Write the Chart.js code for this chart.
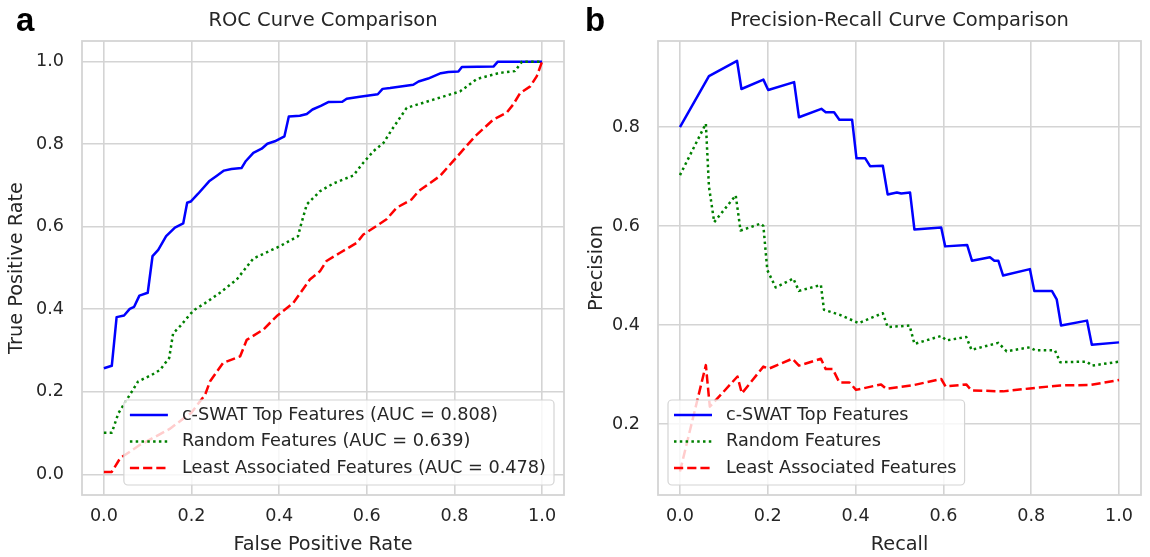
<!DOCTYPE html>
<html>
<head>
<meta charset="utf-8">
<script src="https://cdn.jsdelivr.net/npm/chart.js@4.4.1/dist/chart.umd.min.js"></script>
<style>
  body { margin: 0; background: #fff; width: 1150px; height: 557px; position: relative; overflow: hidden; }
  .pane { position: absolute; top: 0; width: 575px; height: 557px; }
  .tag { position: absolute; top: 1px; font: bold 33px "Liberation Sans", Arial, sans-serif; color: #000; }
</style>
</head>
<body>
<div class="pane" style="left:0"><canvas id="roc" width="575" height="557"></canvas></div>
<div class="pane" style="left:575px"><canvas id="pr" width="575" height="557"></canvas></div>
<div class="tag" style="left:16px">a</div>
<div class="tag" style="left:585px">b</div>
<script>
// ROC — c-SWAT top features
const rocTopFpr = [0, 0.018, 0.029, 0.046, 0.059, 0.069, 0.081, 0.100, 0.111, 0.124, 0.142, 0.162, 0.181, 0.190, 0.198,
  0.215, 0.240, 0.257, 0.274, 0.291, 0.314, 0.323, 0.341, 0.360, 0.373, 0.390, 0.412, 0.422, 0.447, 0.463,
  0.476, 0.495, 0.512, 0.544, 0.554, 0.584, 0.625, 0.636, 0.653, 0.706, 0.718, 0.740, 0.769, 0.786, 0.809,
  0.817, 0.889, 0.899, 1.0];
const rocTopTpr = [0.257, 0.263, 0.381, 0.385, 0.401, 0.406, 0.433, 0.440, 0.529, 0.544, 0.577, 0.598, 0.608, 0.658, 0.661,
  0.680, 0.710, 0.723, 0.736, 0.740, 0.742, 0.758, 0.779, 0.789, 0.801, 0.807, 0.819, 0.867, 0.869, 0.873,
  0.884, 0.893, 0.902, 0.903, 0.910, 0.915, 0.921, 0.934, 0.936, 0.944, 0.952, 0.959, 0.972, 0.975, 0.976,
  0.987, 0.988, 1.0, 1.0];

// ROC — random features
const rocRandFpr = [0, 0.018, 0.033, 0.078, 0.109, 0.128, 0.149, 0.158, 0.174, 0.196, 0.207, 0.231, 0.265, 0.303, 0.341,
  0.402, 0.443, 0.449, 0.463, 0.493, 0.524, 0.569, 0.592, 0.615, 0.638, 0.657, 0.691, 0.752, 0.813, 0.851,
  0.904, 0.938, 0.954, 1.0];
const rocRandTpr = [0.101, 0.101, 0.148, 0.225, 0.241, 0.253, 0.282, 0.342, 0.359, 0.387, 0.399, 0.415, 0.440, 0.472, 0.523,
  0.553, 0.577, 0.602, 0.654, 0.686, 0.705, 0.724, 0.755, 0.783, 0.803, 0.835, 0.888, 0.908, 0.928, 0.958,
  0.973, 0.977, 1.0, 1.0];

// ROC — least associated features
const rocLeastFpr = [0, 0.018, 0.037, 0.08, 0.15, 0.20, 0.231, 0.242, 0.272, 0.311, 0.326, 0.364, 0.394, 0.432, 0.470,
  0.493, 0.508, 0.539, 0.577, 0.592, 0.645, 0.668, 0.702, 0.718, 0.767, 0.797, 0.847, 0.889, 0.919, 0.934,
  0.950, 0.973, 0.988, 1.0];
const rocLeastTpr = [0.006, 0.006, 0.039, 0.07, 0.11, 0.15, 0.193, 0.225, 0.270, 0.286, 0.326, 0.351, 0.383, 0.415, 0.472,
  0.492, 0.517, 0.537, 0.561, 0.581, 0.618, 0.646, 0.666, 0.686, 0.723, 0.759, 0.819, 0.860, 0.876, 0.896,
  0.924, 0.940, 0.965, 1.0];

// PR — c-SWAT top features
const prTopRecall = [0, 0.066, 0.130, 0.140, 0.190, 0.201, 0.260, 0.271, 0.322, 0.332, 0.351, 0.363, 0.392, 0.402, 0.422,
  0.433, 0.462, 0.473, 0.494, 0.504, 0.524, 0.534, 0.595, 0.604, 0.654, 0.665, 0.706, 0.716, 0.725, 0.736,
  0.797, 0.807, 0.847, 0.858, 0.868, 0.927, 0.938, 1.0];
const prTopPrecision = [0.800, 0.903, 0.934, 0.877, 0.896, 0.875, 0.891, 0.820, 0.837, 0.830, 0.830, 0.815, 0.815, 0.737, 0.737,
  0.721, 0.722, 0.664, 0.668, 0.666, 0.668, 0.593, 0.597, 0.559, 0.562, 0.530, 0.537, 0.530, 0.530, 0.500,
  0.513, 0.469, 0.469, 0.452, 0.399, 0.409, 0.360, 0.365];

// PR — random features
const prRandRecall = [0, 0.059, 0.066, 0.078, 0.127, 0.138, 0.184, 0.190, 0.199, 0.218, 0.258, 0.271, 0.321, 0.328, 0.363,
  0.407, 0.462, 0.473, 0.523, 0.534, 0.595, 0.607, 0.652, 0.664, 0.725, 0.744, 0.797, 0.809, 0.854, 0.866,
  0.927, 0.938, 1.0];
const prRandPrecision = [0.703, 0.807, 0.680, 0.608, 0.662, 0.591, 0.605, 0.600, 0.511, 0.476, 0.494, 0.469, 0.481, 0.431, 0.421,
  0.404, 0.424, 0.396, 0.399, 0.362, 0.378, 0.369, 0.376, 0.350, 0.364, 0.347, 0.355, 0.349, 0.349, 0.325,
  0.326, 0.318, 0.326];

// PR — least associated features
const prLeastRecall = [0, 0.059, 0.068, 0.131, 0.141, 0.190, 0.203, 0.256, 0.271, 0.321, 0.332, 0.348, 0.363, 0.386, 0.401,
  0.458, 0.470, 0.534, 0.595, 0.605, 0.652, 0.664, 0.736, 0.797, 0.866, 0.934, 1.0];
const prLeastPrecision = [0.104, 0.319, 0.235, 0.296, 0.262, 0.316, 0.312, 0.332, 0.318, 0.332, 0.311, 0.311, 0.284, 0.284, 0.269,
  0.280, 0.271, 0.279, 0.291, 0.276, 0.280, 0.268, 0.266, 0.272, 0.278, 0.279, 0.289];

const seriesLabels = ["c-SWAT Top Features", "Random Features", "Least Associated Features"];
const rocAuc = ["0.808", "0.639", "0.478"];
const rateTicks = [0, 0.2, 0.4, 0.6, 0.8, 1.0];
const precisionTicks = [0.2, 0.4, 0.6, 0.8];

const TEXT = "#262626";
const GRID = "#d4d4d4";
const FONT = '"DejaVu Sans", sans-serif';

const pts = (xs, ys) => xs.map((x, i) => ({ x: x, y: ys[i] }));

// legend box drawn inside the plot like matplotlib
const boxLegend = {
  id: "boxLegend",
  afterDatasetsDraw(chart, args, opts) {
    const ctx = chart.ctx, a = chart.chartArea;
    const items = chart.data.datasets;
    ctx.save();
    ctx.font = "17.7px " + FONT;
    const tw = Math.max(...items.map(d => ctx.measureText(d.label).width));
    const w = 6 + 38 + 14 + tw + 8, h = 85;
    const x = opts.side === "right" ? a.right - 10 - w : a.left + 10;
    const y = a.bottom - 10 - h;
    ctx.beginPath();
    ctx.roundRect(x, y, w, h, 4);
    ctx.fillStyle = "rgba(255,255,255,0.8)";
    ctx.fill();
    ctx.strokeStyle = GRID;
    ctx.lineWidth = 1.2;
    ctx.stroke();
    items.forEach((d, i) => {
      const cy = y + 15 + i * 26.5;
      ctx.beginPath();
      ctx.setLineDash(d.borderDash || []);
      ctx.strokeStyle = d.borderColor;
      ctx.lineWidth = d.borderWidth;
      ctx.moveTo(x + 6, cy);
      ctx.lineTo(x + 44, cy);
      ctx.stroke();
      ctx.setLineDash([]);
      ctx.fillStyle = TEXT;
      ctx.textBaseline = "middle";
      ctx.fillText(d.label, x + 58, cy);
    });
    ctx.restore();
  }
};

// light grey box round the plot
const frame = {
  id: "frame",
  beforeDatasetsDraw(chart) {
    const ctx = chart.ctx, a = chart.chartArea;
    ctx.save();
    ctx.strokeStyle = GRID;
    ctx.lineWidth = 1.8;
    ctx.strokeRect(a.left, a.top, a.right - a.left, a.bottom - a.top);
    ctx.restore();
  }
};

function lineSet(label, data, color, dash, order) {
  return {
    label: label, data: data, borderColor: color, backgroundColor: color,
    borderWidth: 2.5, borderDash: dash, pointRadius: 0, tension: 0,
    borderJoinStyle: "round", fill: false, order: order
  };
}

function axis(range, ticks, title, isY, yw, titlePad) {
  return {
    type: "linear", min: range[0], max: range[1],
    afterBuildTicks: s => { s.ticks = ticks.map(v => ({ value: v })); },
    afterFit: s => { if (isY) s.width = yw; else s.height = 62; },
    grid: { color: GRID, lineWidth: 1.6, drawTicks: false },
    border: { display: false },
    ticks: {
      color: TEXT, font: { family: FONT, size: 17.6 }, padding: isY ? 18 : 11,
      callback: v => Number(v).toFixed(1)
    },
    title: {
      display: true, text: title, color: TEXT,
      font: { family: FONT, size: 19.3 },
      padding: isY ? { top: titlePad, bottom: 0 } : { top: 0, bottom: 0 }
    }
  };
}

function makeChart(id, cfg) {
  return new Chart(document.getElementById(id), {
    type: "line",
    data: { datasets: cfg.datasets },
    plugins: [frame, boxLegend],
    options: {
      responsive: false,
      animation: false,
      layout: { padding: { left: 0, right: cfg.padRight, top: 0, bottom: 0 } },
      scales: {
        x: axis([-0.05, 1.05], rateTicks, cfg.xTitle, false),
        y: axis(cfg.yRange, cfg.yTicks, cfg.yTitle, true, cfg.yWidth, cfg.yTitlePad)
      },
      plugins: {
        legend: { display: false },
        tooltip: { enabled: false },
        title: {
          display: true, text: cfg.title, color: TEXT, fullSize: false,
          font: { family: FONT, size: 19.5, weight: "normal" },
          padding: { top: 9, bottom: 8.6 }
        },
        boxLegend: { side: cfg.legendSide }
      }
    }
  });
}

makeChart("roc", {
  title: "ROC Curve Comparison",
  xTitle: "False Positive Rate",
  yTitle: "True Positive Rate",
  yRange: [-0.05, 1.05], yTicks: rateTicks, yWidth: 82, yTitlePad: 5.5, padRight: 11,
  legendSide: "right",
  datasets: [
    lineSet(`${seriesLabels[0]} (AUC = ${rocAuc[0]})`, pts(rocTopFpr, rocTopTpr), "#0000ff", [], 3),
    lineSet(`${seriesLabels[1]} (AUC = ${rocAuc[1]})`, pts(rocRandFpr, rocRandTpr), "#008000", [2.5, 3.3], 2),
    lineSet(`${seriesLabels[2]} (AUC = ${rocAuc[2]})`, pts(rocLeastFpr, rocLeastTpr), "#ff0000", [9.2, 4], 1)
  ]
});

makeChart("pr", {
  title: "Precision-Recall Curve Comparison",
  xTitle: "Recall",
  yTitle: "Precision",
  yRange: [0.0566, 0.974], yTicks: precisionTicks, yWidth: 83, yTitlePad: 10, padRight: 9,
  legendSide: "left",
  datasets: [
    lineSet(seriesLabels[0], pts(prTopRecall, prTopPrecision), "#0000ff", [], 3),
    lineSet(seriesLabels[1], pts(prRandRecall, prRandPrecision), "#008000", [2.5, 3.3], 2),
    lineSet(seriesLabels[2], pts(prLeastRecall, prLeastPrecision), "#ff0000", [9.2, 4], 1)
  ]
});
</script>
</body>
</html>
